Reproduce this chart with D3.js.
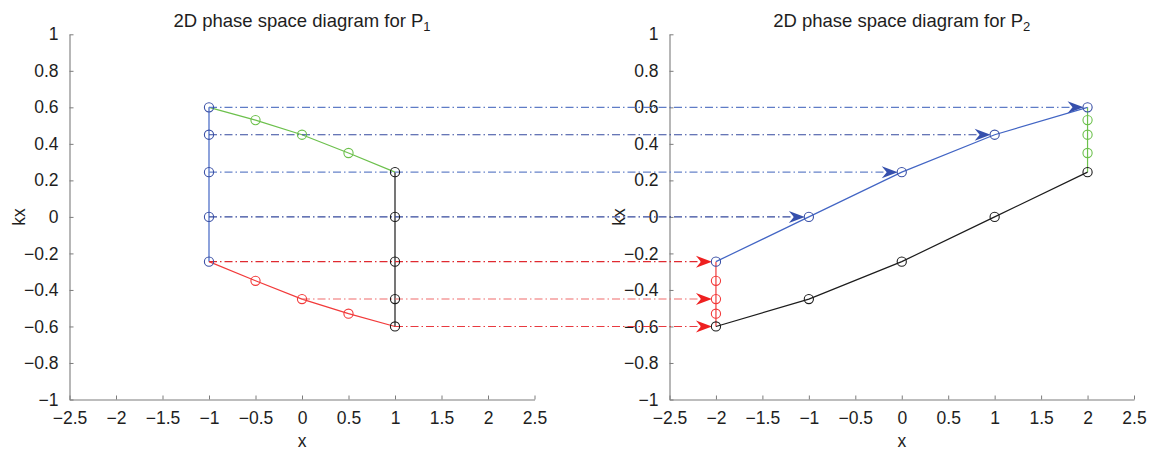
<!DOCTYPE html>
<html>
<head>
<meta charset="utf-8">
<script src="https://cdn.jsdelivr.net/npm/d3@7"></script>
<style>
  body { margin: 0; background: #fff; }
  svg { display: block; }
  text { font-family: "Liberation Sans", Arial, Helvetica, sans-serif; fill: #1e1e1e; }
</style>
</head>
<body>
<svg id="chart" width="1150" height="453"></svg>
<script>
// Axis ticks shared by both panels
const xTicks = [-2.5, -2, -1.5, -1, -0.5, 0, 0.5, 1, 1.5, 2, 2.5];
const yTicks = [-1, -0.8, -0.6, -0.4, -0.2, 0, 0.2, 0.4, 0.6, 0.8, 1];

// Panel titles
const titles = ["1", "2"];

// P1 phase space
const p1X = [-1, -0.5, 0, 0.5, 1];
const p1Upper = [0.6, 0.53, 0.45, 0.35, 0.245];      // green curve
const p1Lower = [-0.245, -0.35, -0.45, -0.53, -0.6];  // red curve
const p1LeftX = -1;
const p1LeftKx = [0.6, 0.45, 0.245, 0, -0.245];       // blue edge at x = -1
const p1RightX = 1;
const p1RightKx = [0.245, 0, -0.245, -0.45, -0.6];    // black edge at x = 1

// P2 phase space
const p2X = [-2, -1, 0, 1, 2];
const p2Blue = [-0.245, 0, 0.245, 0.45, 0.6];
const p2Black = [-0.6, -0.45, -0.245, 0, 0.245];
const p2GreenX = 2;
const p2GreenKx = [0.6, 0.53, 0.45, 0.35, 0.245];
const p2RedX = -2;
const p2RedKx = [-0.245, -0.35, -0.45, -0.53, -0.6];

// Mapping of points from P1 to P2 (same kx, shifted x)
const mapKx = [0.6, 0.45, 0.245, 0, -0.245, -0.45, -0.6];
const mapFromX = [-1, -1, -1, -1, -1, 0, 1];
const mapToX = [2, 1, 0, -1, -2, -2, -2];
const mapColor = ["#5f7cc6", "#34499f", "#6783c9", "#34489c", "#e02a30", "#f06a6a", "#e83a40"];
const mapHead = ["#3650ad", "#3650ad", "#3650ad", "#3650ad", "#ee2020", "#ee2020", "#ee2020"];

const C = {
  blue: "#4265c4",
  blueMark: "#3a50a6",
  green: "#6cc04c",
  red: "#f23a3a",
  black: "#1c1c1c",
  axis: "#7c7c7c"
};

const svg = d3.select("#chart");
const yTop = 34.3, yBot = 399.5;
const y = d3.scaleLinear().domain([-1, 1]).range([yBot, yTop]);
const xL = d3.scaleLinear().domain([-2.5, 2.5]).range([69.5, 534.5]);
const xR = d3.scaleLinear().domain([-2.5, 2.5]).range([669.5, 1134]);
const fmt = d3.format("~g");

function drawAxes(x, idx) {
  const g = svg.append("g");
  const gx = g.append("g").attr("transform", `translate(0,${yBot})`)
    .call(d3.axisBottom(x).tickValues(xTicks).tickFormat(fmt)
      .tickSizeInner(-4).tickSizeOuter(0).tickPadding(12));
  const gy = g.append("g").attr("transform", `translate(${x.range()[0]},0)`)
    .call(d3.axisLeft(y).tickValues(yTicks).tickFormat(fmt)
      .tickSizeInner(-4).tickSizeOuter(0).tickPadding(11));
  [gx, gy].forEach(a => {
    a.select(".domain").attr("stroke", C.axis).attr("stroke-width", 1.1);
    a.selectAll(".tick line").attr("stroke", C.axis).attr("stroke-width", 1);
    a.selectAll(".tick text").attr("font-size", 17.5).attr("fill", "#1e1e1e")
      .style("font-family", '"Liberation Sans", Arial, sans-serif');
  });
  const cx = (x.range()[0] + x.range()[1]) / 2;
  g.append("text").attr("x", cx).attr("y", 447).attr("text-anchor", "middle")
    .attr("font-size", 17.5).text("x");
  g.append("text")
    .attr("transform", `translate(${x.range()[0] - 45},${y(0)}) rotate(-90)`)
    .attr("text-anchor", "middle").attr("font-size", 17.5).text("kx");
  const t = g.append("text").attr("x", cx).attr("y", 26.5).attr("text-anchor", "middle")
    .attr("font-size", 18.5);
  t.append("tspan").text("2D phase space diagram for P");
  t.append("tspan").attr("font-size", 13).attr("dy", 4).text(titles[idx]);
}

drawAxes(xL, 0);
drawAxes(xR, 1);

const line = (x) => d3.line().x(d => x(d[0])).y(d => y(d[1]));

function series(x, xs, ys, color) {
  const pts = xs.map((v, i) => [v, ys[i]]);
  svg.append("path").attr("d", line(x)(pts)).attr("fill", "none")
    .attr("stroke", color).attr("stroke-width", 1.2);
  return pts;
}

function markers(x, pts, color) {
  svg.append("g").selectAll("circle").data(pts).join("circle")
    .attr("cx", d => x(d[0])).attr("cy", d => y(d[1])).attr("r", 4.6)
    .attr("fill", "none").attr("stroke", color).attr("stroke-width", 1.1);
}

// P1 solid lines
const g1 = series(xL, p1X, p1Upper, C.green);
const r1 = series(xL, p1X, p1Lower, C.red);
const b1 = series(xL, p1LeftKx.map(() => p1LeftX), p1LeftKx, C.blue);
const k1 = series(xL, p1RightKx.map(() => p1RightX), p1RightKx, C.black);

// P2 solid lines
const gr2 = series(xR, p2GreenKx.map(() => p2GreenX), p2GreenKx, C.green);
const rd2 = series(xR, p2RedKx.map(() => p2RedX), p2RedKx, C.red);
const b2 = series(xR, p2X, p2Blue, C.blue);
const k2 = series(xR, p2X, p2Black, C.black);

// Dash-dot transfer lines with arrowheads
const headL = 16, headW = 6, notch = 5;
mapKx.forEach((kx, i) => {
  const x0 = xL(mapFromX[i]);
  const tipX = xR(mapToX[i]) - 4;
  const yy = y(kx);
  svg.append("line").attr("x1", x0).attr("y1", yy).attr("x2", tipX - headL + notch).attr("y2", yy)
    .attr("stroke", mapColor[i]).attr("stroke-width", 1.1)
    .attr("stroke-dasharray", "8,3,1.5,3");
  const p = d3.path();
  p.moveTo(tipX, yy);
  p.lineTo(tipX - headL, yy - headW);
  p.lineTo(tipX - headL + notch, yy);
  p.lineTo(tipX - headL, yy + headW);
  p.closePath();
  svg.append("path").attr("d", p.toString()).attr("fill", mapHead[i]).attr("stroke", "none");
});

// Circle markers
markers(xL, g1.slice(1, 4), C.green);
markers(xL, r1.slice(1, 4), C.red);
markers(xL, b1, C.blueMark);
markers(xL, k1, C.black);
markers(xR, gr2.slice(1, 4), C.green);
markers(xR, rd2.slice(1, 4), C.red);
markers(xR, b2, C.blueMark);
markers(xR, k2, C.black);
</script>
</body>
</html>
